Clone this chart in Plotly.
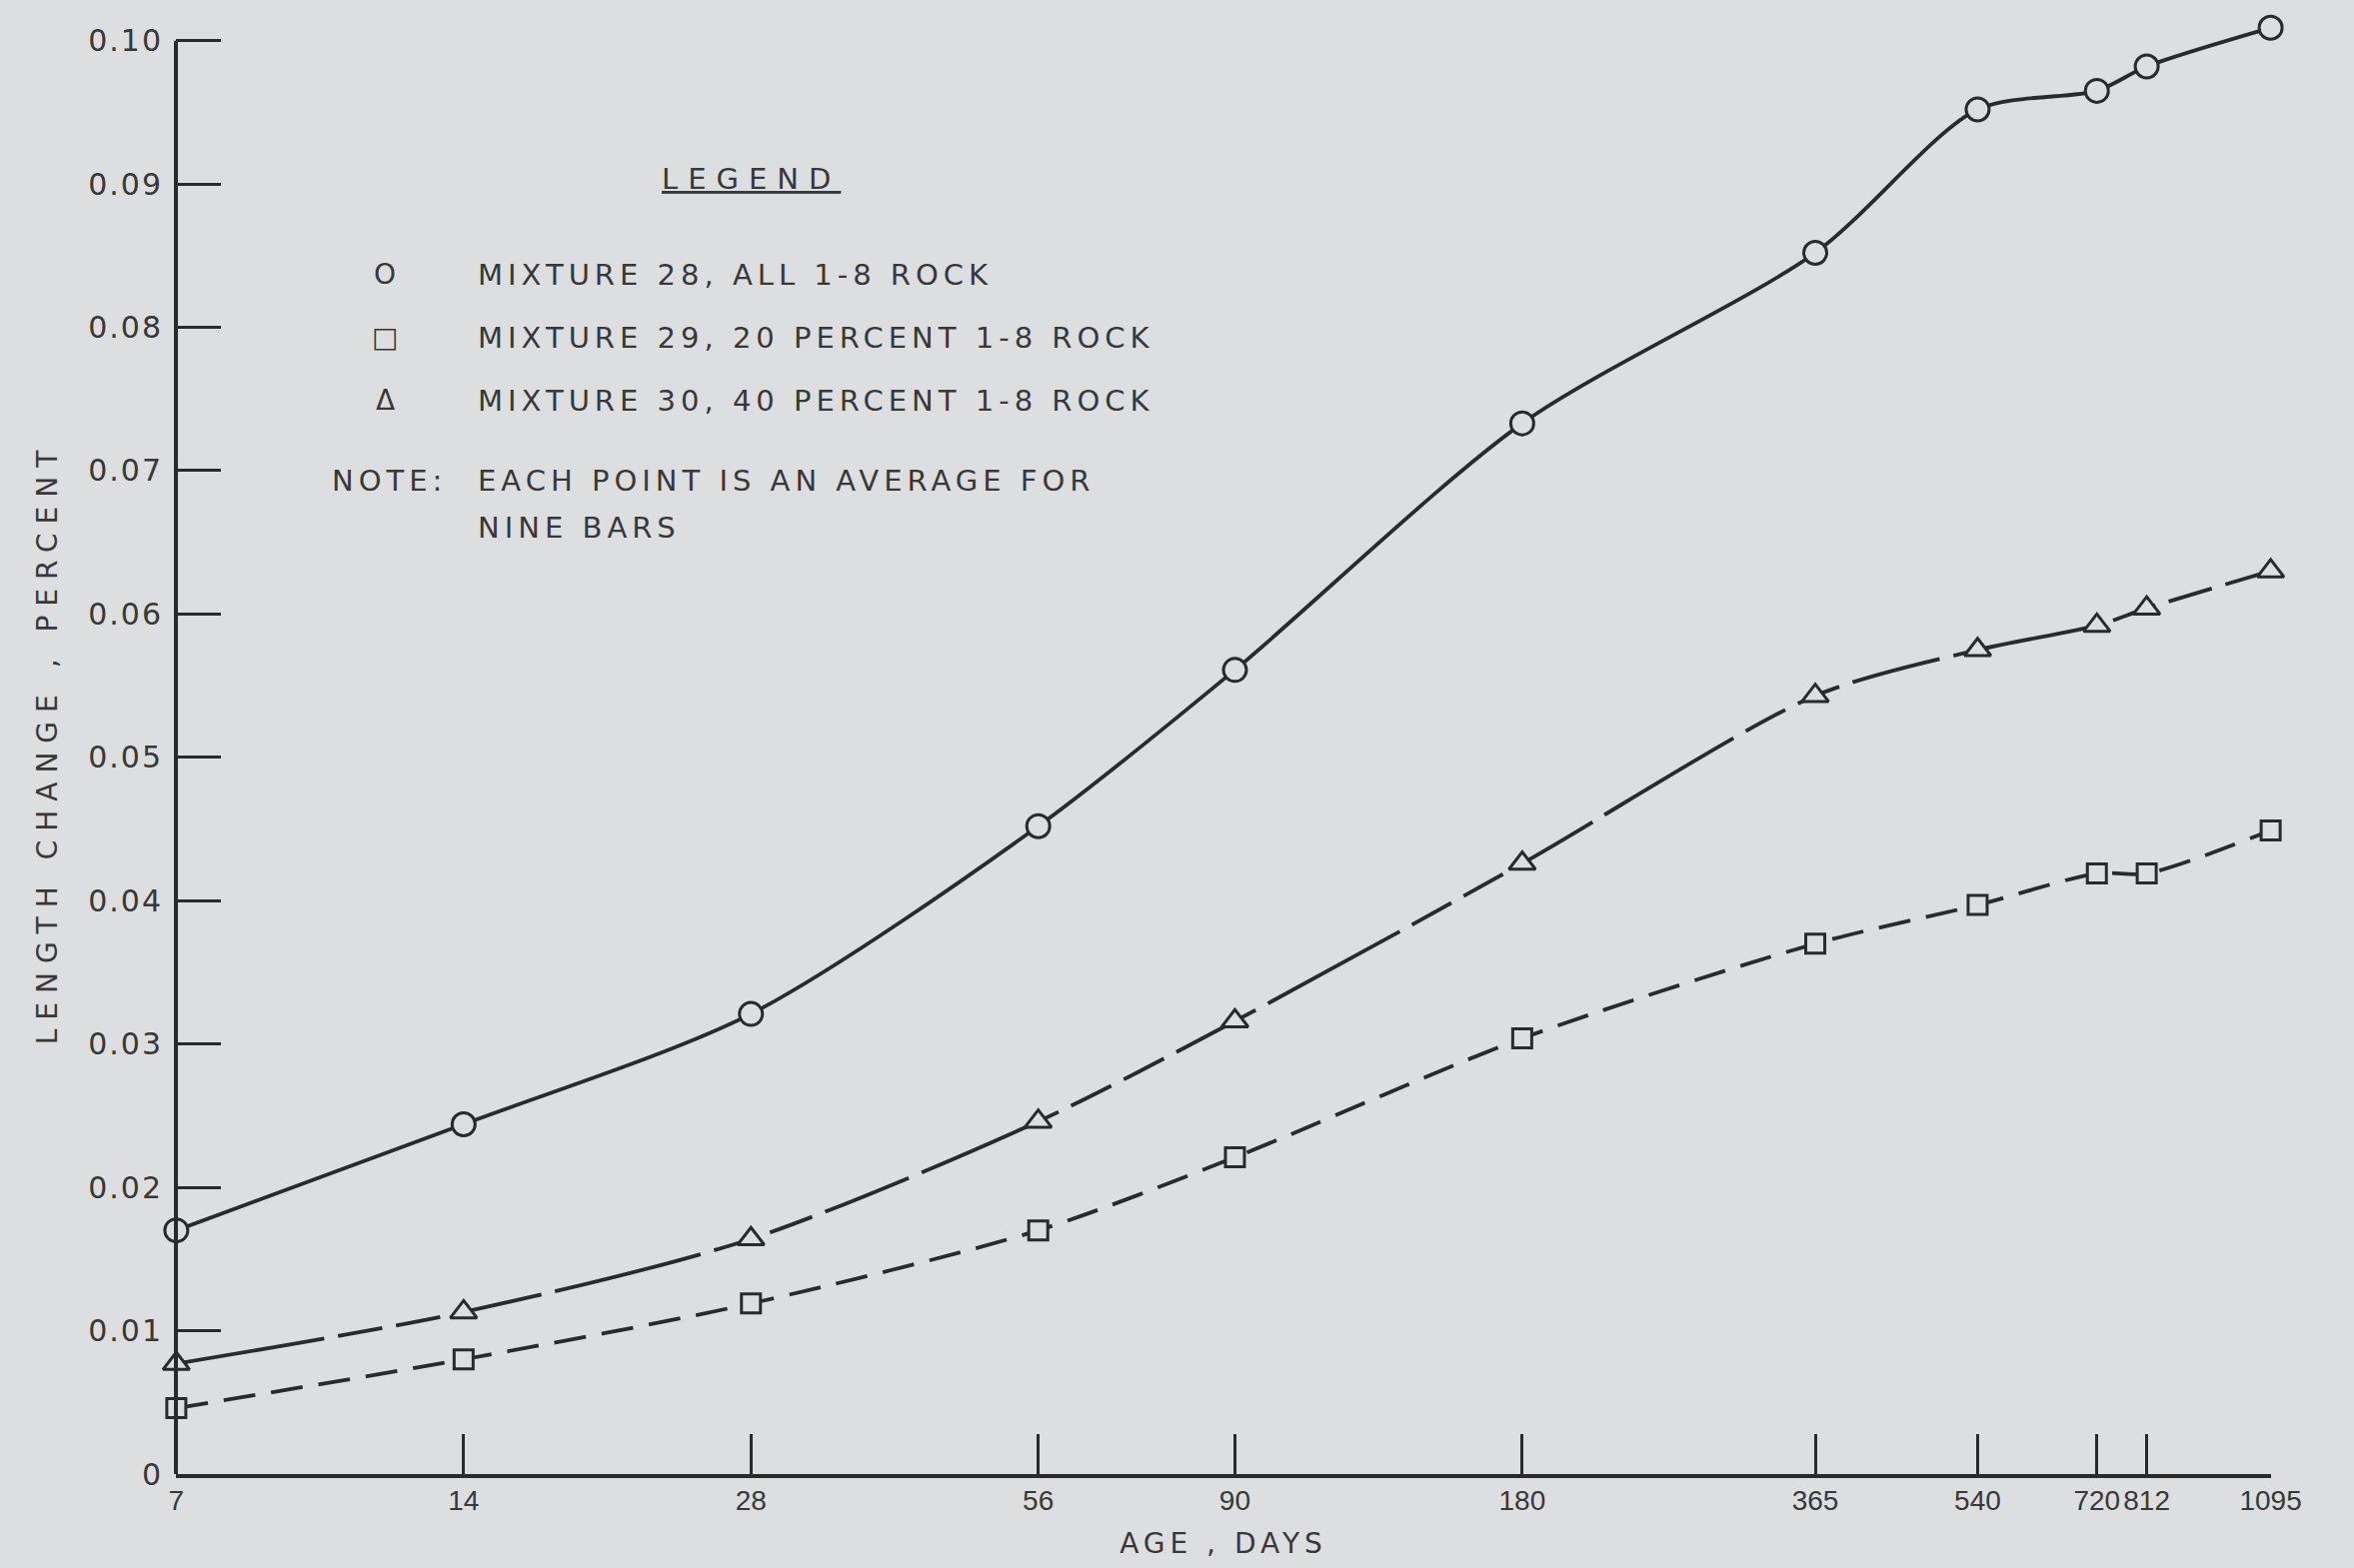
import math
import plotly.graph_objects as go

# Age at test (days) and measured length change (percent)
age_days = [7, 14, 28, 56, 90, 180, 365, 540, 720, 812, 1095]
age_labels = ["7", "14", "28", "56", "90", "180", "365", "540", "720", "812", "1095"]

mix28_all_rock = [0.0170, 0.0244, 0.0321, 0.0452, 0.0561, 0.0733, 0.0852, 0.0952, 0.0965, 0.0982, 0.1009]
mix29_20pct = [0.0046, 0.0080, 0.0119, 0.0170, 0.0221, 0.0304, 0.0370, 0.0397, 0.0419, 0.0419, 0.0449]
mix30_40pct = [0.0077, 0.0113, 0.0164, 0.0246, 0.0316, 0.0426, 0.0543, 0.0575, 0.0592, 0.0604, 0.0630]

y_ticks = [0, 0.01, 0.02, 0.03, 0.04, 0.05, 0.06, 0.07, 0.08, 0.09, 0.10]
y_tick_labels = ["0", "0.01", "0.02", "0.03", "0.04", "0.05", "0.06", "0.07", "0.08", "0.09", "0.10"]

legend_rows = [
    ("O", "MIXTURE 28, ALL 1-8 ROCK"),
    ("\u25A1", "MIXTURE 29, 20 PERCENT 1-8 ROCK"),
    ("\u0394", "MIXTURE 30, 40 PERCENT 1-8 ROCK"),
]
note_lines = ["EACH POINT IS AN AVERAGE FOR", "NINE BARS"]

# Page and plot-area geometry (pixels); the y range runs a little past the
# last labelled tick so the final point of the top curve stays visible.
W, H = 2355, 1569
ML, MR, MT, MB = 176, 83, 12, 94
PW, PH = W - ML - MR, H - MT - MB
Y_TOP = 0.102

BG = "#dddee0"
INK = "#2a2a2a"
TXT = "#383838"
FONT = "DejaVu Sans"
TICK_FONT_X = "Liberation Sans"


def px(x, y):
    """Pixel position on the page -> paper coordinates."""
    return (x - ML) / PW, (H - MB - y) / PH


fig = go.Figure()


def add_series(y, symbol, dash, size):
    fig.add_trace(go.Scatter(
        x=age_days, y=y, mode="lines+markers",
        line=dict(color=INK, width=3.8, shape="spline", smoothing=0.8, dash=dash),
        marker=dict(symbol=symbol, size=size, color=BG, line=dict(color=INK, width=3)),
        cliponaxis=False, showlegend=False, hoverinfo="skip",
    ))


add_series(mix28_all_rock, "circle", "solid", 23)
add_series(mix30_40pct, "triangle-up", "150px,14px,45px,14px,45px,14px,90px,14px", 23)
add_series(mix29_20pct, "square", "32px,16px", 19)


def note(text, x, y, size=29, xanchor="left"):
    ax, ay = px(x, y)
    return dict(x=ax, y=ay, xref="paper", yref="paper", showarrow=False,
                text=text, xanchor=xanchor, yanchor="middle",
                align="left" if xanchor == "left" else "center",
                font=dict(family=FONT, size=size, color=TXT))


annotations = [note("<span style='text-decoration:underline'>LEGEND</span>", 751, 179,
                    xanchor="center")]
for i, (sym, label) in enumerate(legend_rows):
    row_y = 275 + i * 63
    annotations.append(note(sym, 385, row_y, size=28, xanchor="center"))
    annotations.append(note(label, 476, row_y))
annotations.append(note("NOTE:", 330, 481))
for j, line in enumerate(note_lines):
    annotations.append(note(line, 476, 481 + j * 47))

# Vertical axis line drawn only up to the top tick (0.10)
shapes = [dict(type="line", xref="paper", yref="y", x0=0, x1=0, y0=0, y1=y_ticks[-1],
               line=dict(color=INK, width=4))]

fig.update_layout(
    width=W, height=H,
    margin=dict(l=ML, r=MR, t=MT, b=MB, pad=0),
    paper_bgcolor=BG, plot_bgcolor=BG,
    annotations=annotations, shapes=shapes,
    xaxis=dict(
        type="log",
        range=[math.log10(age_days[0]) - 0.0004, math.log10(age_days[-1]) + 0.0004],
        tickvals=age_days, ticktext=age_labels, tickangle=0,
        ticks="inside", ticklen=40, tickwidth=2.5, tickcolor=INK,
        showline=True, linecolor=INK, linewidth=4,
        showgrid=False, zeroline=False,
        tickfont=dict(family=TICK_FONT_X, size=28, color=TXT),
        ticklabelstandoff=-2,
        title=dict(text="AGE , DAYS", standoff=20,
                   font=dict(family=FONT, size=28, color=TXT)),
    ),
    yaxis=dict(
        range=[0, Y_TOP],
        tickvals=y_ticks, ticktext=y_tick_labels,
        ticks="inside", ticklen=45, tickwidth=2.5, tickcolor=INK,
        showline=False,
        showgrid=False, zeroline=False,
        tickfont=dict(family=FONT, size=30, color=TXT),
        ticklabelstandoff=12,
        title=dict(text="LENGTH CHANGE , PERCENT", standoff=30,
                   font=dict(family=FONT, size=28, color=TXT)),
    ),
)

# Widen the lettering tracking of the drafted labels
post_js = """
document.querySelectorAll('.annotation-text').forEach(function(t){
  t.style.letterSpacing = (t.textContent === 'LEGEND') ? '10px' :
    (t.textContent.length > 2 ? '5px' : '0px');
});
document.querySelectorAll('.ytick text').forEach(function(t){ t.style.letterSpacing = '2px'; });
document.querySelectorAll('.ytitle').forEach(function(t){ t.style.letterSpacing = '9px'; });
document.querySelectorAll('.xtitle').forEach(function(t){ t.style.letterSpacing = '5px'; });
"""

fig.write_html("out.html", config={"displayModeBar": False}, post_script=post_js)
